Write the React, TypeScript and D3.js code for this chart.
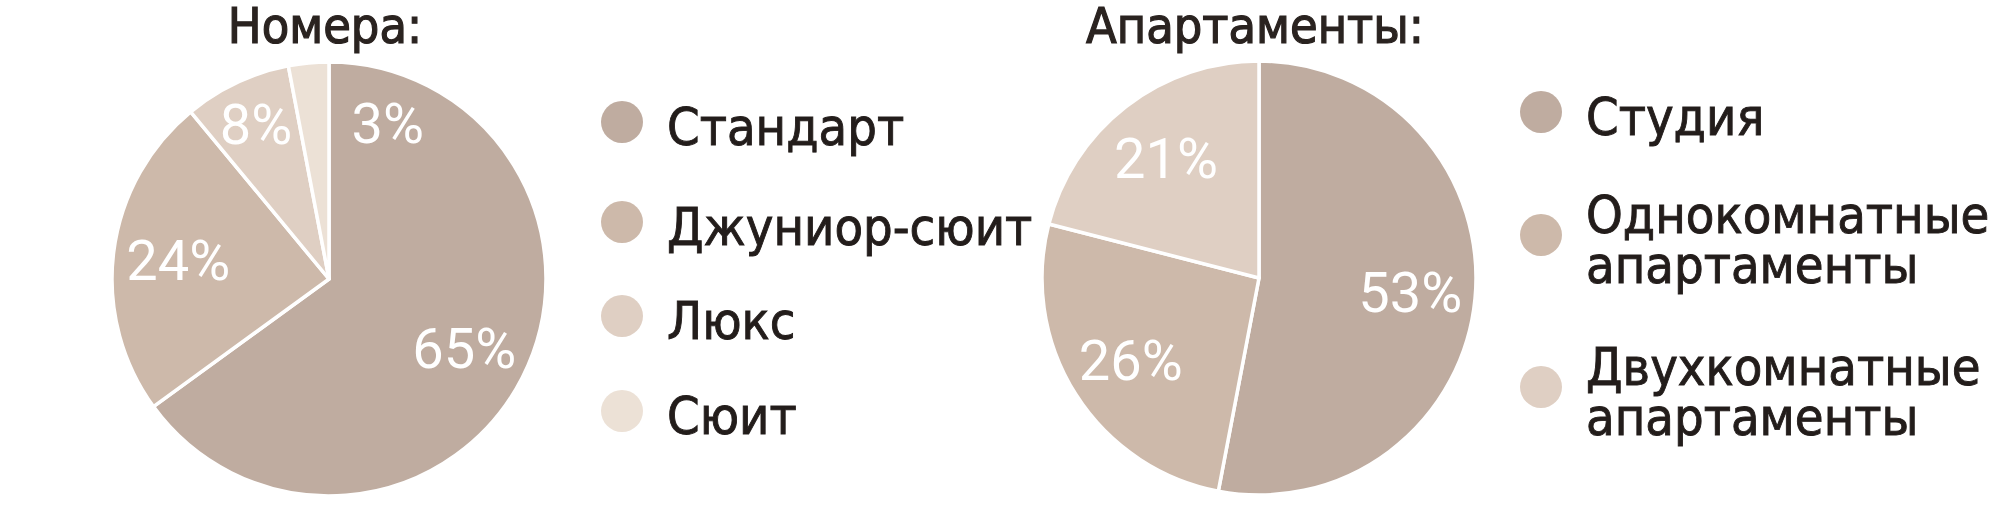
import React from 'react';
import * as d3 from 'd3';

// Номера
const roomCategories = ['Стандарт', 'Джуниор-сюит', 'Люкс', 'Сюит'];
const roomValues = [65, 24, 8, 3];

// Апартаменты
const aptCategories = ['Студия', 'Однокомнатные апартаменты', 'Двухкомнатные апартаменты'];
const aptValues = [53, 26, 21];

const palette = ['#bfaca0', '#cdb9aa', '#dfcfc3', '#ece1d6'];

const W = 2003;
const H = 523;
const R = 217;
const textFont = '"DejaVu Sans Condensed", "DejaVu Sans", sans-serif';
const numFont = 'Roboto, "DejaVu Sans", sans-serif';

type PieProps = {
  title: string;
  values: number[];
  labels: string[];
  cx: number;
  cy: number;
  legendX: number;
  legendY: number[];
  wrap?: boolean;
};

const Pie = ({ title, values, labels, cx, cy, legendX, legendY, wrap }: PieProps) => {
  const pie = d3.pie<number>().sort(null).value(d => d);
  const arcs = pie(values);
  const arc = d3.arc<d3.PieArcDatum<number>>().innerRadius(0).outerRadius(R);

  // label position: centroid-ish, small slices nudged outward / past the slice
  const labelPos = (a: d3.PieArcDatum<number>) => {
    const share = a.value / d3.sum(values);
    let ang = (a.startAngle + a.endAngle) / 2;
    let rr = R * 0.7;
    if (share < 0.05) {
      ang = a.endAngle + 0.36;
      rr = R * 0.77;
    } else if (share < 0.1) {
      rr = R * 0.79;
    }
    return [Math.sin(ang) * rr, -Math.cos(ang) * rr];
  };

  return (
    <g>
      <text x={cx - 4} y={43} textAnchor="middle" fontFamily={textFont} fontSize={50}
        fill="#2a2320" stroke="#2a2320" strokeWidth={1.2}
        style={{ fontStretch: 'condensed' }}>{title}</text>
      <g transform={`translate(${cx},${cy})`}>
        {arcs.map((a, i) => (
          <path key={i} d={arc(a) || ''} fill={palette[i]} stroke="#fff" strokeWidth={3.5}
            strokeLinejoin="round" />
        ))}
        {arcs.map((a, i) => {
          const [x, y] = labelPos(a);
          return (
            <text key={i} x={x} y={y} dy="0.36em" textAnchor="middle" fontFamily={numFont}
              fontWeight={400} fontSize={56} fill="#fff">{a.value}%</text>
          );
        })}
      </g>
      {labels.map((lab, i) => {
        const lines = wrap ? lab.split(' ') : [lab];
        const y0 = legendY[i];
        return (
          <g key={lab}>
            <circle cx={legendX} cy={y0} r={21} fill={palette[i]} />
            {lines.map((ln, j) => (
              <text key={j} x={legendX + 45}
                y={(lines.length > 1 ? y0 - 2 : y0 + 23) + j * 50}
                fontFamily={textFont} fontSize={52} fill="#231d1b"
                stroke="#231d1b" strokeWidth={0.9}
                style={{ fontStretch: 'condensed' }}>{ln}</text>
            ))}
          </g>
        );
      })}
    </g>
  );
};

export default function App() {
  return (
    <svg width={W} height={H} viewBox={`0 0 ${W} ${H}`}
      style={{ position: 'absolute', left: 0, top: 0, background: '#fff' }}>
      <Pie title="Номера:" values={roomValues} labels={roomCategories} cx={329} cy={279}
        legendX={622} legendY={[122, 222, 316, 411]} />
      <Pie title="Апартаменты:" values={aptValues} labels={aptCategories} cx={1259} cy={278}
        legendX={1541} legendY={[112, 235, 387]} wrap />
    </svg>
  );
}
